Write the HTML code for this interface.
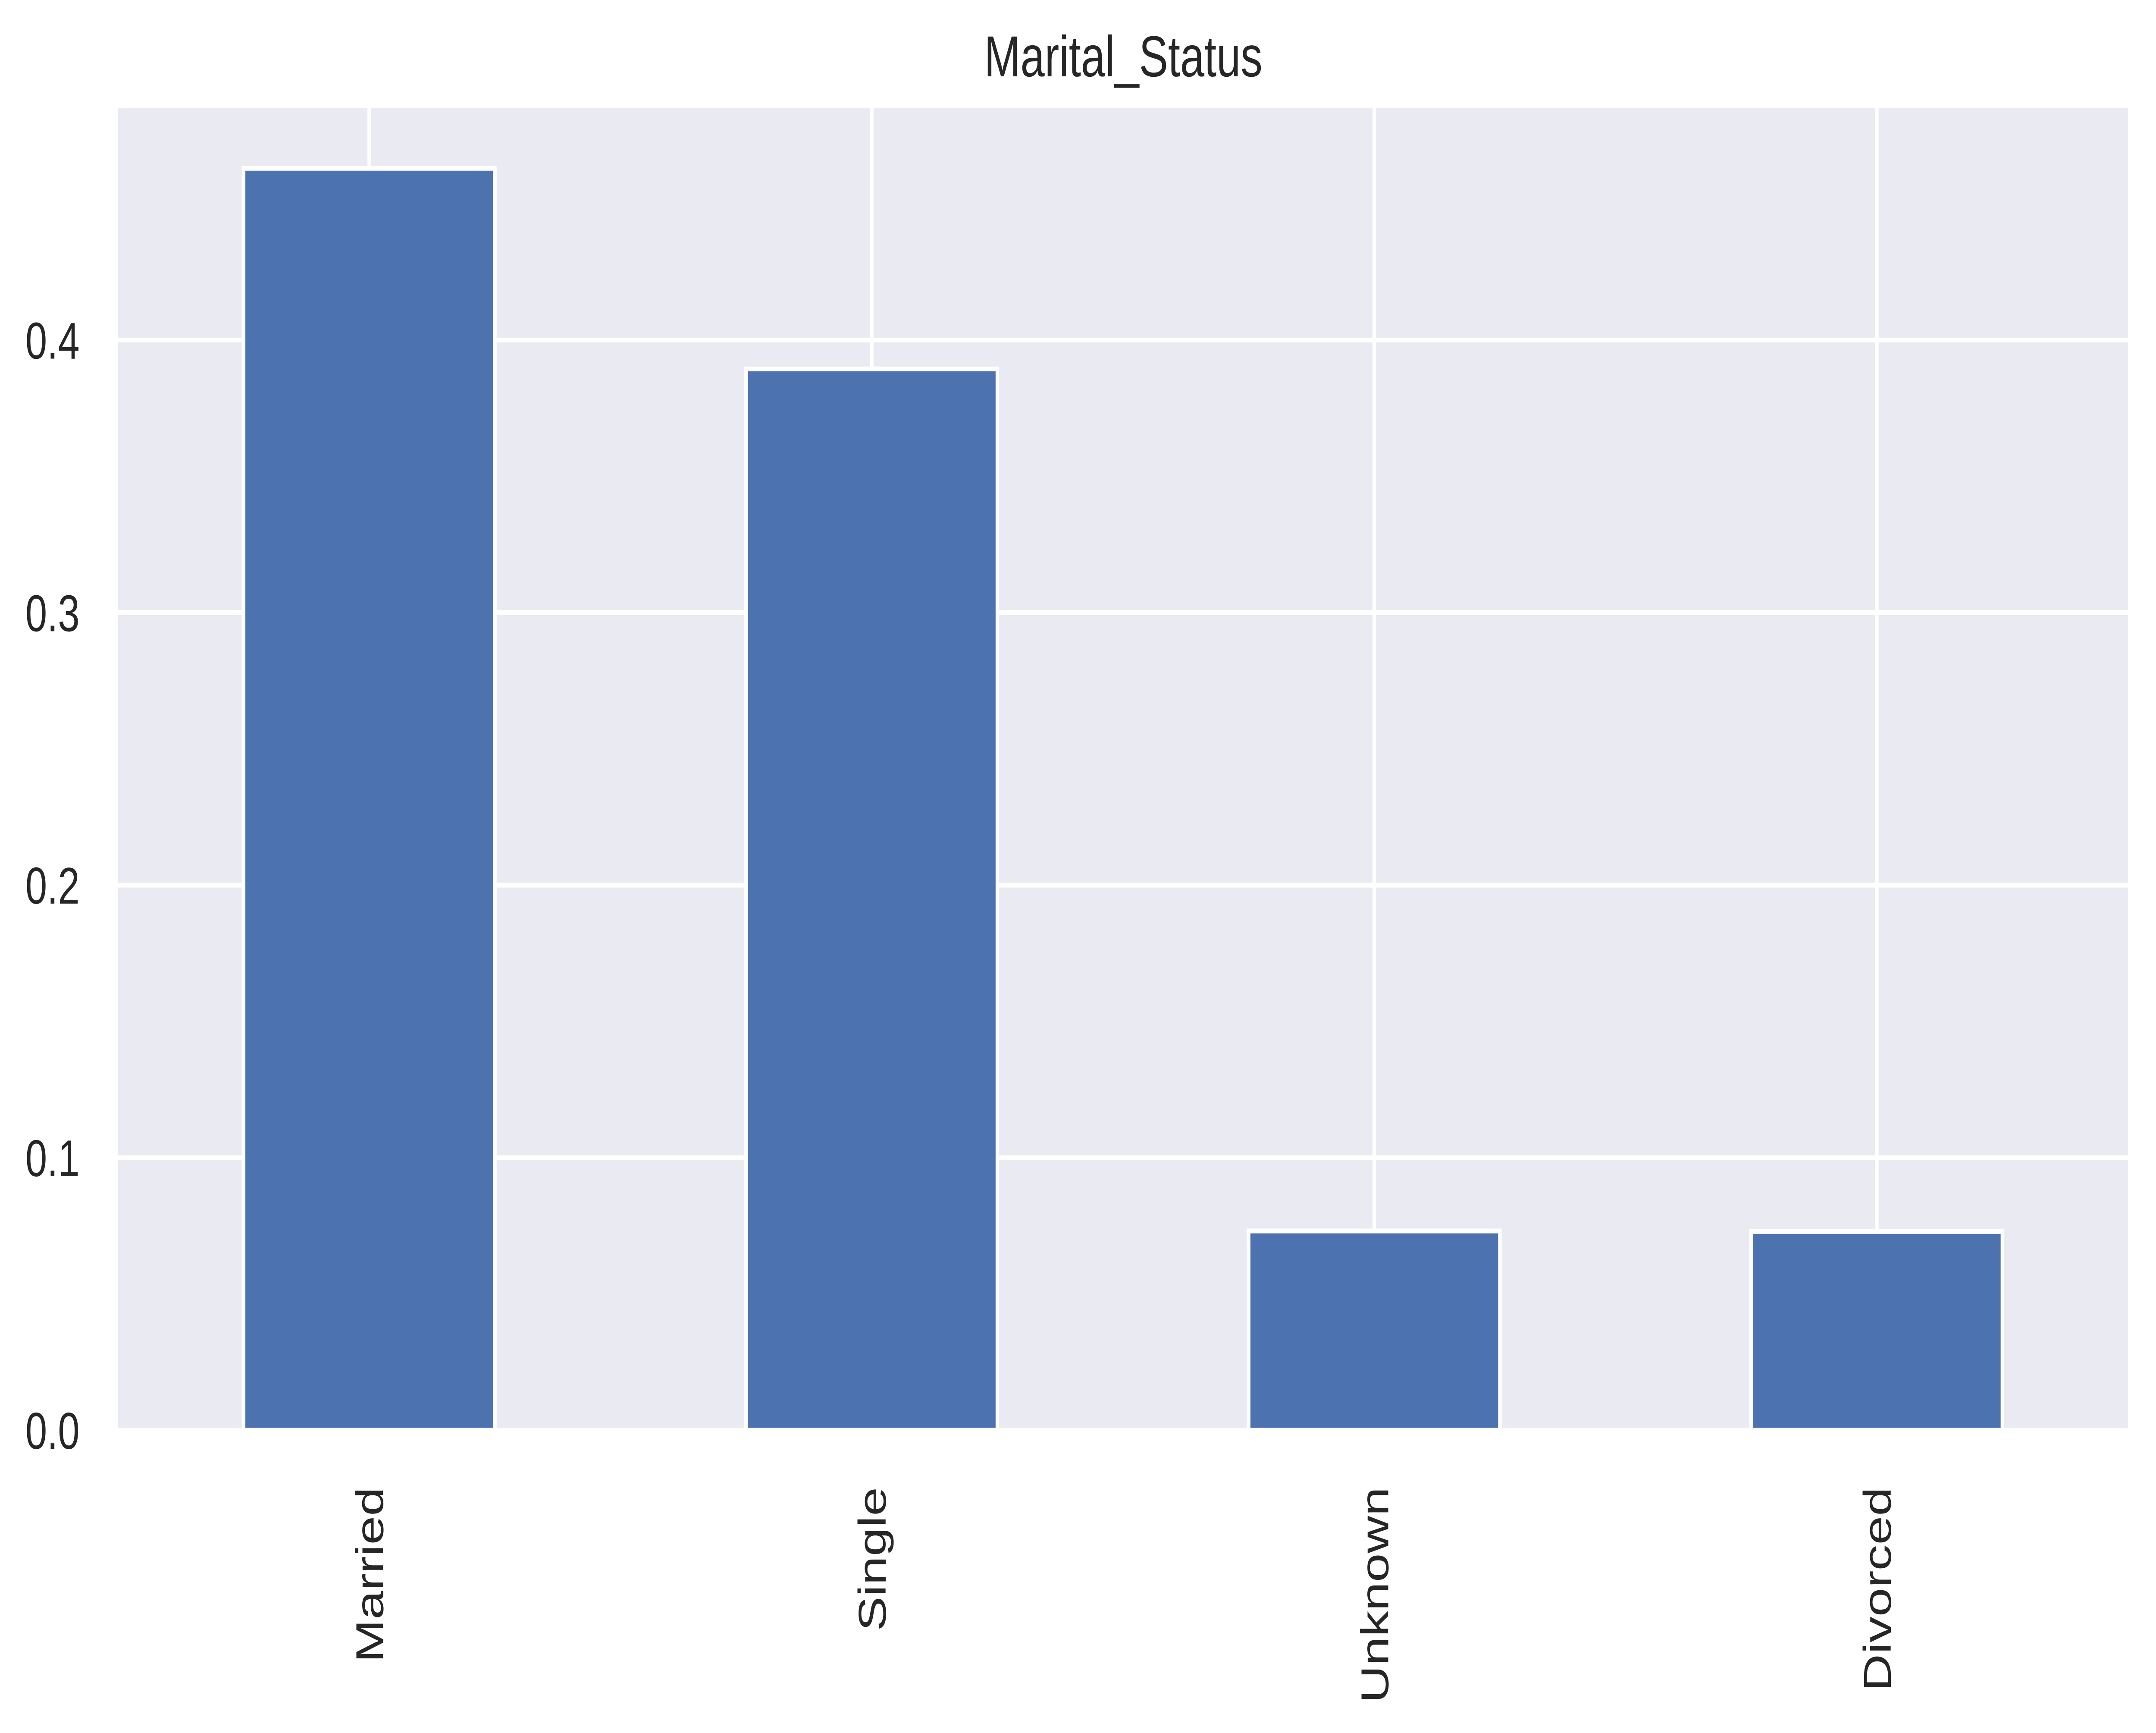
<!DOCTYPE html>
<html><head><meta charset="utf-8"><style>
html,body{margin:0;padding:0;background:#fff;overflow:hidden;width:100%;height:100%;}
svg{display:block;width:100vw;height:100vh;}
text{font-family:"Liberation Sans",Arial,sans-serif;fill:#262626;}
</style></head><body>
<svg id="chart" viewBox="0 0 6635 4018" preserveAspectRatio="none" xmlns="http://www.w3.org/2000/svg">
<rect x="0" y="0" width="6635" height="4018" fill="#ffffff"/>
<text x="3457" y="177" font-size="134" text-anchor="middle">Marital_Status</text>
<g id="plot"></g>
</svg>
<script>
const categories = ["Married", "Single", "Unknown", "Divorced"];
const values = [0.463, 0.3894, 0.0731, 0.0729];
const yTicks = [0.0, 0.1, 0.2, 0.3, 0.4];
const yTickLabels = ["0.0", "0.1", "0.2", "0.3", "0.4"];
const yMax = 0.4852;

const L = 363, R = 6549, T = 250, B = 3316;
const NS = "http://www.w3.org/2000/svg";
const g = document.getElementById('plot');
function xScale(i) { return L + (i + 0.5) / categories.length * (R - L); }
function yScale(v) { return B - v / yMax * (B - T); }
function mk(tag, attrs) { const e = document.createElementNS(NS, tag); for (const k in attrs) e.setAttribute(k, attrs[k]); g.appendChild(e); return e; }

const bg = mk('rect', {x: L, y: T, width: R - L, height: B - T, fill: '#eaeaf2'});



yTicks.forEach((v, i) => {
  const y = yScale(v);
  const ln = mk('line', {x1: L, x2: R, y1: y, y2: y, stroke: '#ffffff', 'stroke-width': 11});
  
  
  const t = mk('text', {x: 245, y: y + 43, 'font-size': 120, 'text-anchor': 'end'});
  t.textContent = yTickLabels[i];
  
  
});
categories.forEach((c, i) => {
  const x = xScale(i);
  const ln = mk('line', {x1: x, x2: x, y1: T, y2: B, stroke: '#ffffff', 'stroke-width': 11});
  
  
});
const bw = 0.5 * (R - L) / categories.length;
categories.forEach((c, i) => {
  const x = xScale(i);
  const y = yScale(values[i]);
  const r = mk('rect', {x: x - bw / 2, y: y, width: bw, height: B - y, fill: '#4c72b0', stroke: '#ffffff', 'stroke-width': 11});
  
  
  const t = mk('text', {x: 0, y: 0, 'font-size': 120, 'text-anchor': 'end', transform: 'translate(' + (x + 43) + ',3448) rotate(-90)'});
  t.textContent = c;
  
  
});
</script>
</body></html>
